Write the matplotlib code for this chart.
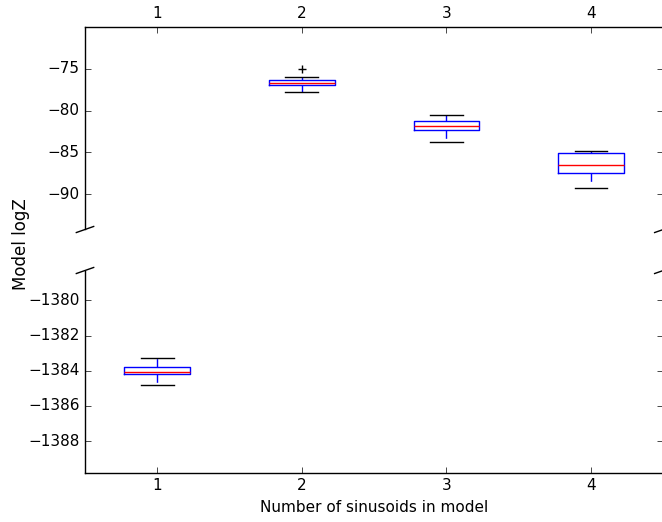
import matplotlib
matplotlib.use("Agg")
import matplotlib.pyplot as plt

plt.style.use('classic')
plt.rcParams['font.family'] = ['DejaVu Sans']
plt.rcParams['font.size'] = 11

# Data
n_sinusoids = [1, 2, 3, 4]
whisker_low = [-1384.83, -77.8, -83.8, -89.2]
q1 = [-1384.2, -77.0, -82.3, -87.4]
medians = [-1384.07, -76.7, -81.8, -86.5]
q3 = [-1383.8, -76.4, -81.2, -85.1]
whisker_high = [-1383.3, -76.0, -80.5, -84.8]
fliers = [[], [-75.1], [], []]

top_ylim = (-94.2, -70.0)
bottom_ylim = (-1389.8, -1378.3)
top_yticks = [-90, -85, -80, -75]
bottom_yticks = [-1388, -1386, -1384, -1382, -1380]

stats = []
for i, n in enumerate(n_sinusoids):
    stats.append(dict(med=medians[i], q1=q1[i], q3=q3[i],
                      whislo=whisker_low[i], whishi=whisker_high[i],
                      fliers=fliers[i], label=str(n)))

W, H = 662, 522
fig = plt.figure(figsize=(W / 100, H / 100), dpi=100)
left = 85 / W
width = (663.3 - 85) / W
ax1 = fig.add_axes([left, 1 - 229.5 / H, width, (229.5 - 26.7) / H])
ax2 = fig.add_axes([left, 1 - 472.7 / H, width, (472.7 - 270.5) / H])

boxprops = dict(color='b', linewidth=1)
medianprops = dict(color='r', linewidth=1)
whiskerprops = dict(color='b', linestyle='--', linewidth=1)
capprops = dict(color='k', linewidth=1)
flierprops = dict(marker='+', markeredgecolor='k', markersize=6, linestyle='none')

for ax in (ax1, ax2):
    ax.bxp(stats, positions=n_sinusoids, widths=0.455,
           boxprops=boxprops, medianprops=medianprops,
           whiskerprops=whiskerprops, capprops=capprops,
           flierprops=flierprops, showfliers=True)
    ax.set_xlim(0.5, 4.5)
    ax.set_xticks(n_sinusoids)
    ax.set_xticklabels([str(n) for n in n_sinusoids])
    ax.tick_params(direction='in', length=4)

ax1.set_ylim(*top_ylim)
ax1.set_yticks(top_yticks)
ax2.set_ylim(*bottom_ylim)
ax2.set_yticks(bottom_yticks)
ax2.ticklabel_format(axis='y', useOffset=False)

ax1.spines['bottom'].set_visible(False)
ax2.spines['top'].set_visible(False)
ax1.xaxis.tick_top()
ax1.tick_params(labeltop=True, labelbottom=False)
ax2.xaxis.tick_bottom()

d = 0.015
kw = dict(transform=ax1.transAxes, color='k', clip_on=False, linewidth=1)
ax1.plot((-d, +d), (-d, +d), **kw)
ax1.plot((1 - d, 1 + d), (-d, +d), **kw)
kw.update(transform=ax2.transAxes)
ax2.plot((-d, +d), (1 - d, 1 + d), **kw)
ax2.plot((1 - d, 1 + d), (1 - d, 1 + d), **kw)

ax2.set_xlabel('Number of sinusoids in model')
fig.text(21 / W, 1 - 244 / H, 'Model logZ', rotation=90, ha='center', va='center', fontsize=12)

fig.savefig('out.png', dpi=100)
